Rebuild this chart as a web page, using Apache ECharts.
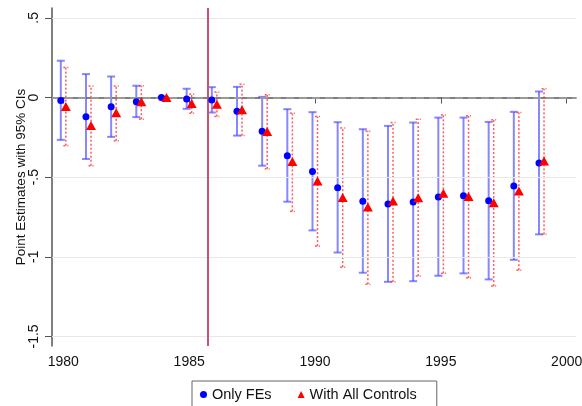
<!DOCTYPE html>
<html><head><meta charset="utf-8">
<script src="https://cdn.jsdelivr.net/npm/echarts@6/dist/echarts.min.js"></script>
<style>html,body{margin:0;padding:0;background:#fff}#c{width:582px;height:406px}</style>
</head><body><div id="c"></div>
<script>
const years = [1980,1981,1982,1983,1984,1985,1986,1987,1988,1989,1990,1991,1992,1993,1994,1995,1996,1997,1998,1999];
const feEst = [-0.019,-0.121,-0.058,-0.027,0,-0.01,-0.015,-0.086,-0.211,-0.365,-0.465,-0.566,-0.652,-0.669,-0.656,-0.625,-0.616,-0.648,-0.555,-0.411];
const feLo  = [-0.266,-0.386,-0.247,-0.123,0,-0.071,-0.094,-0.239,-0.428,-0.654,-0.834,-0.973,-1.10,-1.157,-1.153,-1.119,-1.104,-1.142,-1.019,-0.859];
const feHi  = [0.231,0.147,0.132,0.074,0,0.055,0.065,0.067,0.004,-0.073,-0.092,-0.155,-0.199,-0.178,-0.157,-0.126,-0.126,-0.153,-0.09,0.038];
const ctEst = [-0.057,-0.176,-0.096,-0.027,0,-0.038,-0.042,-0.077,-0.214,-0.402,-0.524,-0.627,-0.687,-0.650,-0.629,-0.601,-0.622,-0.660,-0.587,-0.398];
const ctLo  = [-0.302,-0.428,-0.272,-0.136,0,-0.098,-0.119,-0.239,-0.448,-0.715,-0.933,-1.065,-1.172,-1.157,-1.121,-1.104,-1.132,-1.184,-1.084,-0.859];
const ctHi  = [0.189,0.072,0.072,0.074,0,0.021,0.034,0.084,0.017,-0.098,-0.119,-0.191,-0.211,-0.157,-0.136,-0.109,-0.115,-0.14,-0.094,0.055];
const xTicks = [1980,1985,1990,1995,2000];
const yTicks = [-1.5,-1,-0.5,0,0.5];
const yTickText = ['-1.5','-1','-.5','0','.5'];
const eventYear = 1985.72;
const seriesNames = ['Only FEs','With All Controls'];

const OFF = 0.1;
const FONT = 'Liberation Sans';

function ciRender(offset, color, dashed, capW, lw) {
  return function(params, api) {
    const x = api.value(0) + offset;
    const lo = api.coord([x, api.value(1)]);
    const hi = api.coord([x, api.value(2)]);
    const style = {stroke: color, lineWidth: lw, lineDash: dashed ? [2,2] : null};
    return {type:'group', children:[
      {type:'line', shape:{x1:lo[0],y1:lo[1],x2:hi[0],y2:hi[1]}, style:style},
      {type:'line', shape:{x1:lo[0]-capW,y1:lo[1],x2:lo[0]+capW,y2:lo[1]}, style:style},
      {type:'line', shape:{x1:hi[0]-capW,y1:hi[1],x2:hi[0]+capW,y2:hi[1]}, style:style}
    ]};
  };
}

const chart = echarts.init(document.getElementById('c'), null, {renderer:'canvas'});
chart.setOption({
  animation:false,
  backgroundColor:'#fff',
  textStyle:{fontFamily:FONT},
  grid:{left:52, right:6, top:8, bottom:60, containLabel:false, outerBoundsMode:'none'},
  legend:{
    data:[{name:seriesNames[0], icon:'circle'},{name:seriesNames[1], icon:'triangle'}],
    left:192, bottom:-8, itemWidth:7, itemHeight:7, itemGap:26,
    borderColor:'#666', borderWidth:1, padding:[6,20,12,8],
    textStyle:{fontFamily:FONT, fontSize:14.5, color:'#111'}
  },
  xAxis:{
    type:'value', min:1979.55, max:2000.37,
    axisLine:{show:true, lineStyle:{color:'#555', width:1.5}},
    axisTick:{show:true, length:6, customValues:xTicks, lineStyle:{color:'#555'}},
    axisLabel:{customValues:xTicks, color:'#111', fontSize:14, fontFamily:FONT, margin:9, formatter:v=>String(v)},
    splitLine:{show:false}
  },
  yAxis:{
    type:'value', min:-1.56, max:0.562,
    name:'Point Estimates with 95% CIs', nameLocation:'middle', nameGap:24, nameMoveOverlap:false,
    nameTextStyle:{fontSize:13.5, color:'#111', fontFamily:FONT},
    axisLine:{show:true, lineStyle:{color:'#555', width:1.5}},
    axisTick:{show:true, length:7, customValues:yTicks, lineStyle:{color:'#555'}},
    axisLabel:{customValues:yTicks, rotate:90, color:'#111', fontSize:14, fontFamily:FONT, margin:11,
      formatter:v=>{const i=yTicks.findIndex(t=>Math.abs(t-v)<1e-6); return i>=0?yTickText[i]:'';}},
    splitLine:{show:false}
  },
  series:[
    {type:'line', name:'grid', data:[], silent:true,
     markLine:{silent:true, symbol:'none', label:{show:false},
       data:yTicks.filter(t=>t!==0).map(t=>({yAxis:t, lineStyle:{color:'#e8e8e8', width:1, type:'solid'}}))
        .concat([{yAxis:0, lineStyle:{color:'#9a9a9a', width:2, type:[8,5]}},
                 {xAxis:eventYear, lineStyle:{color:'#c9536e', width:2, type:'solid'}}])}},
    {type:'custom', name:'ciFE', renderItem:ciRender(-OFF,'rgba(70,70,255,0.65)',false,4,2),
     data:years.map((y,i)=>[y,feLo[i],feHi[i]]), z:3, silent:true},
    {type:'custom', name:'ciCT', renderItem:ciRender(OFF,'rgba(255,60,60,0.85)',true,2.5,1.5),
     data:years.map((y,i)=>[y,ctLo[i],ctHi[i]]), z:3, silent:true},
    {type:'scatter', name:seriesNames[0], symbol:'circle', symbolSize:7,
     itemStyle:{color:'#0000ff', opacity:1}, data:years.map((y,i)=>[y-OFF,feEst[i]]), z:5},
    {type:'scatter', name:seriesNames[1], symbol:'triangle', symbolSize:[10,9],
     itemStyle:{color:'#ff0000', opacity:1}, data:years.map((y,i)=>[y+OFF,ctEst[i]]), z:6}
  ]
});
</script></body></html>
